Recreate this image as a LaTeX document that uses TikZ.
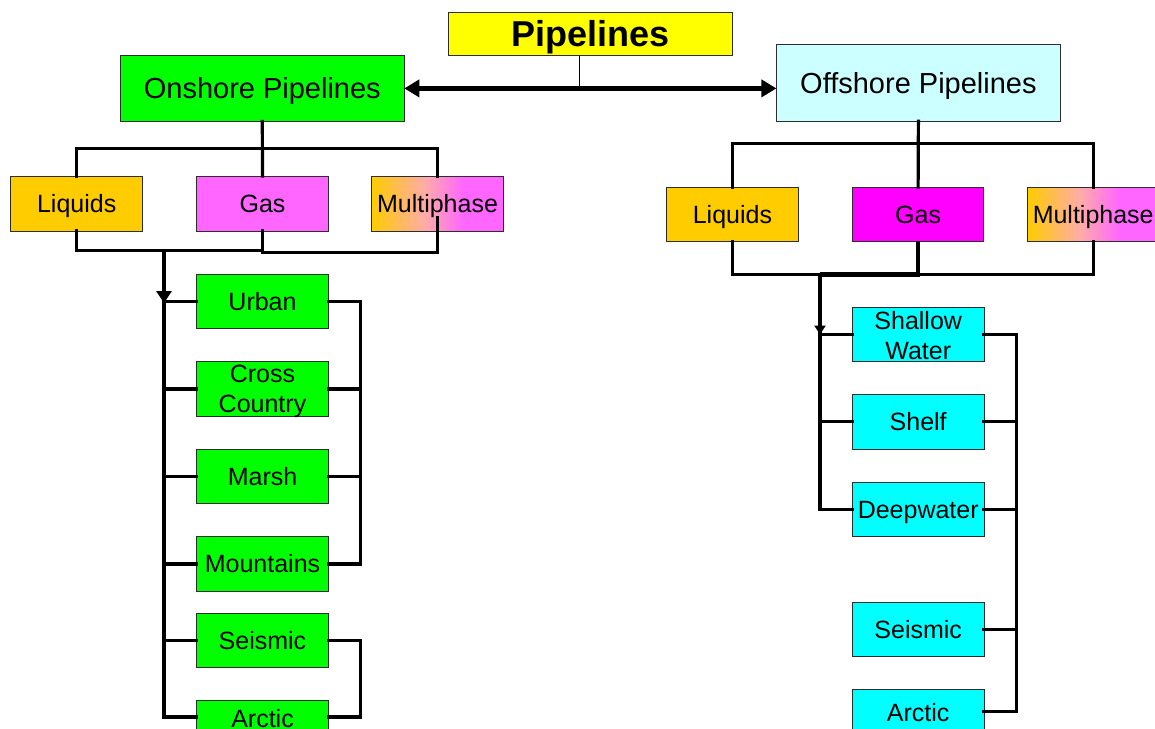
\documentclass[tikz,border=0pt]{standalone}
\usepackage{fontspec}
\setmainfont{Liberation Sans}
\usetikzlibrary{arrows.meta}
\definecolor{ongreen}{RGB}{0,255,0}
\definecolor{liq}{RGB}{255,204,0}
\definecolor{gasp}{RGB}{255,102,255}
\definecolor{gasm}{RGB}{255,0,255}
\definecolor{offc}{RGB}{204,255,255}
\definecolor{cy}{RGB}{0,255,255}
\definecolor{yel}{RGB}{255,255,0}
\definecolor{peach}{RGB}{255,172,168}
\definecolor{edge}{RGB}{45,45,45}
\pgfdeclarehorizontalshading{multishade}{100bp}{color(0bp)=(liq); color(25bp)=(liq); color(45bp)=(peach); color(60bp)=(gasp); color(100bp)=(gasp)}
\begin{document}
\begin{tikzpicture}[x=1pt,y=-1pt,
  box/.style={draw=edge, line width=0.9pt, inner sep=0pt, outer sep=0pt, align=center,
    font=\fontsize{25}{30}\selectfont, minimum width=131.6pt, minimum height=54.6pt},
  one/.style={text height=18pt, text depth=0pt},
  big/.style={box, one, minimum width=284pt, font=\fontsize{29}{34}\selectfont, text height=21pt},
  conn/.style={line width=3.2pt, line cap=rect, line join=miter},
  thickconn/.style={line width=4.6pt},
]
\useasboundingbox (0,0) rectangle (1155,728);

% top level
\node[box, one, fill=yel, minimum width=284pt, minimum height=43.5pt,
      font=\bfseries\fontsize{36}{40}\selectfont, text height=26pt] (pip) at (590.3,33.9) {Pipelines};
\node[big, fill=ongreen, minimum height=66pt] (on) at (262.3,88.4) {Onshore Pipelines};
\node[big, fill=offc, minimum height=76.5pt] (off) at (918.4,83) {Offshore Pipelines};

% second level onshore
\node[box, one, fill=liq, minimum height=55pt] (onliq) at (76.7,203.5) {Liquids};
\node[box, one, fill=gasp, minimum height=55pt] (ongas) at (262.5,203.5) {Gas};
\node[box, one, shading=multishade, minimum height=55pt] (onmulti) at (437.5,203.5) {Multiphase};

% second level offshore
\node[box, one, fill=liq, minimum height=54pt] (offliq) at (732.4,214.2) {Liquids};
\node[box, one, fill=gasm, minimum height=54pt] (offgas) at (918.1,214.2) {Gas};
\node[box, one, shading=multishade, minimum height=54pt] (offmulti) at (1093.2,214.2) {Multiphase};

% onshore terrain
\node[box, one, fill=ongreen] (urban) at (262.5,301.5) {Urban};
\node[box, fill=ongreen, text depth=0pt] (cross) at (262.5,389) {Cross\\Country};
\node[box, one, fill=ongreen] (marsh) at (262.5,476.5) {Marsh};
\node[box, one, fill=ongreen] (mount) at (262.5,563.9) {Mountains};
\node[box, one, fill=ongreen] (lseis) at (262.5,640.5) {Seismic};
\node[box, one, fill=ongreen, text depth=20pt] (larc) at (262.5,728) {Arctic};

% offshore terrain
\node[box, fill=cy] (shallow) at (918.2,334.5) {\rule{0pt}{19.5pt}Shallow\\Water};
\node[box, one, fill=cy] (shelf) at (918.2,421.8) {Shelf};
\node[box, one, fill=cy] (deep) at (918.2,509.3) {Deepwater};
\node[box, one, fill=cy] (rseis) at (918.2,629.6) {Seismic};
\node[box, one, fill=cy, text depth=9pt] (rarc) at (918.2,716.7) {Arctic};

% helper coordinates
\coordinate (onbus) at (0,148.3);
\coordinate (onlow1) at (0,250.5);
\coordinate (onlow2) at (0,252.5);
\coordinate (lsplit) at (164,250.5);
\coordinate (offbus) at (0,143.5);
\coordinate (offlow) at (0,274.5);
\coordinate (rsplit) at (820,274.5);
\coordinate (larcL) at ([yshift=11pt]larc.west);
\coordinate (larcR) at ([yshift=11pt]larc.east);
\coordinate (rarcR) at ([yshift=5pt]rarc.east);
\coordinate (pipdrop) at ([xshift=-10.5pt]pip.south);

% main double arrow
\draw[line width=5pt, {Triangle[length=15pt,width=17pt]}-{Triangle[length=15pt,width=17pt]}]
  (on.east) -- (on.east -| off.west);
\draw[line width=1pt] (pipdrop) -- (pipdrop |- on.east);

% onshore tree
\draw[conn] (on.south) -- (ongas.north);
\draw[conn] (onliq.north) |- (onmulti.north |- onbus) -- (onmulti.north);
\draw[conn] (onliq.south) |- (ongas.south |- onlow1);
\draw[conn] (ongas.south) |- (onmulti.south |- onlow2) -- ([yshift=13pt]onmulti.south);
\draw[thickconn, -{Triangle[length=12pt,width=15pt]}] (lsplit) -- ([yshift=-1.5pt]lsplit |- urban.west);
\draw[conn] (lsplit) -- (lsplit |- larcL);
\foreach \n in {urban,cross,marsh,mount,lseis} {
  \draw[conn] (lsplit |- \n.west) -- (\n.west);
}
\draw[conn] (lsplit |- larcL) -- (larcL);
\draw[conn] (urban.east) -- ++(32,0) |- (mount.east);
\draw[conn] (cross.east) -- ++(32,0);
\draw[conn] (marsh.east) -- ++(32,0);
\draw[conn] (lseis.east) -- ++(32,0) |- (larcR);

% offshore tree
\draw[conn] (off.south) -- (offgas.north);
\draw[conn] (offliq.north) |- (offmulti.north |- offbus) -- (offmulti.north);
\draw[conn] (offliq.south) |- (offmulti.south |- offlow) -- (offmulti.south);
\draw[thickconn] (offgas.south) -- (offgas.south |- offlow) -- (rsplit);
\draw[line width=4pt, -{Triangle[length=9pt,width=11pt]}] (rsplit) -- (rsplit |- shallow.west);
\draw[conn] (rsplit) -- (rsplit |- deep.west);
\foreach \n in {shallow,shelf,deep} {
  \draw[conn] (rsplit |- \n.west) -- (\n.west);
}
\draw[conn] (shallow.east) -- ++(32.5,0) |- (rarcR);
\draw[conn] (shelf.east) -- ++(32.5,0);
\draw[conn] (deep.east) -- ++(32.5,0);
\draw[conn] (rseis.east) -- ++(32.5,0);
\end{tikzpicture}
\end{document}
